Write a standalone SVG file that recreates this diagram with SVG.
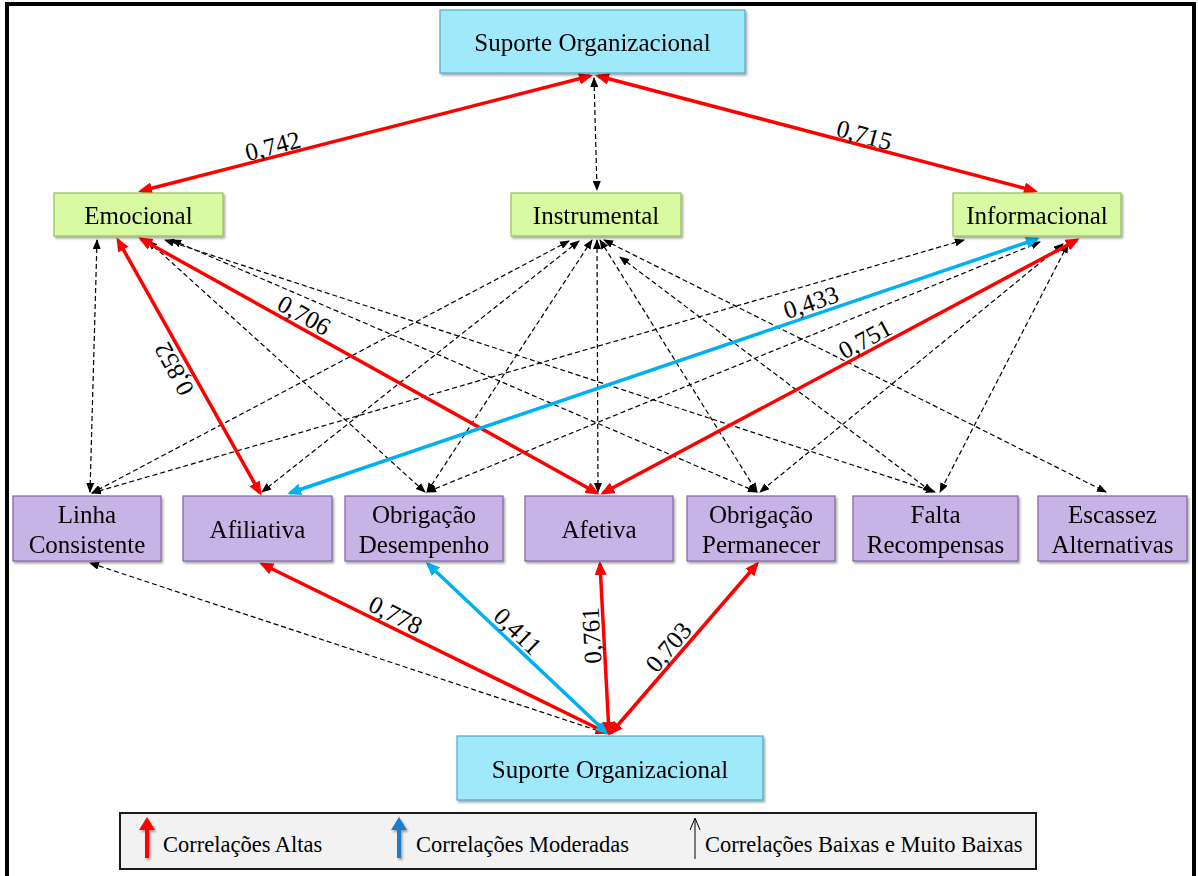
<svg xmlns="http://www.w3.org/2000/svg" width="1198" height="876" viewBox="0 0 1198 876">
  <style>
    .lbl { font-family: "Liberation Serif", "Times New Roman", serif; font-size: 25px; fill: #000; text-anchor: middle; }
    .val { font-family: "Liberation Serif", "Times New Roman", serif; font-size: 25px; fill: #000; text-anchor: middle; }
    .leg { font-family: "Liberation Serif", "Times New Roman", serif; font-size: 22.5px; fill: #000; }
    .cyan { fill: #A0E9FB; stroke: #4BACC6; stroke-width: 1.2; }
    .green { fill: #D7FAA3; stroke: #9BBB59; stroke-width: 1.2; }
    .purple { fill: #C8B3E6; stroke: #8064A2; stroke-width: 1.2; }
    .hi { stroke: #FF0000; stroke-width: 3.5; fill: none; marker-start: url(#mr); marker-end: url(#mr); }
    .mod { stroke: #00B0F0; stroke-width: 3.5; fill: none; marker-start: url(#mb); marker-end: url(#mb); }
    .low { stroke: #000; stroke-width: 1.2; stroke-dasharray: 5 3; fill: none; marker-start: url(#mk); marker-end: url(#mk); }
  </style>
  <defs>
    <filter id="sh" x="-10%" y="-10%" width="130%" height="140%">
      <feDropShadow dx="1.5" dy="2" stdDeviation="1.2" flood-color="#000" flood-opacity="0.35"/>
    </filter>
    <marker id="mr" viewBox="0 0 14 12" refX="11" refY="6" markerWidth="14" markerHeight="12" markerUnits="userSpaceOnUse" orient="auto-start-reverse">
      <path d="M0,0 L14,6 L0,12 z" fill="#FF0000"/>
    </marker>
    <marker id="mb" viewBox="0 0 14 12" refX="11" refY="6" markerWidth="14" markerHeight="12" markerUnits="userSpaceOnUse" orient="auto-start-reverse">
      <path d="M0,0 L14,6 L0,12 z" fill="#00B0F0"/>
    </marker>
    <marker id="mk" viewBox="0 0 10 8" refX="9" refY="4" markerWidth="10" markerHeight="8" markerUnits="userSpaceOnUse" orient="auto-start-reverse">
      <path d="M0,0 L10,4 L0,8 z" fill="#000"/>
    </marker>
  </defs>

  <!-- frame -->
  <rect x="0" y="0" width="1198" height="876" fill="#FFFFFF"/>
  <rect x="7" y="4" width="1187" height="880" fill="none" stroke="#000" stroke-width="4"/>

  <!-- connectors -->
  <g id="connectors">
    <!-- top level -->
    <line class="hi" x1="590" y1="76" x2="141" y2="191"/>
    <line class="hi" x1="598" y1="76" x2="1035" y2="191"/>
    <line class="low" x1="594" y1="78" x2="597" y2="190"/>

    <!-- Emocional -->
    <line class="low" x1="97" y1="240" x2="90" y2="492"/>
    <line class="low" x1="148" y1="241" x2="425" y2="492"/>
    <line class="low" x1="172" y1="240" x2="757" y2="492"/>
    <line class="low" x1="165" y1="240" x2="935" y2="492"/>

    <!-- Instrumental -->
    <line class="low" x1="569" y1="241" x2="92" y2="493"/>
    <line class="low" x1="579" y1="241" x2="262" y2="492"/>
    <line class="low" x1="592" y1="240" x2="427" y2="492"/>
    <line class="low" x1="597" y1="240" x2="598" y2="492"/>
    <line class="low" x1="600" y1="240" x2="757" y2="492"/>
    <line class="low" x1="620" y1="257" x2="932" y2="492"/>
    <line class="low" x1="604" y1="240" x2="1106" y2="492"/>

    <!-- Informacional -->
    <line class="low" x1="964" y1="240" x2="92" y2="493"/>
    <line class="low" x1="1040" y1="242" x2="427" y2="492"/>
    <line class="low" x1="1063" y1="244" x2="760" y2="492"/>
    <line class="low" x1="1068" y1="244" x2="940" y2="492"/>

    <!-- bottom level -->
    <line class="low" x1="605" y1="733" x2="90" y2="563"/>

    <!-- strong and moderate links (drawn over the dashed ones) -->
    <line class="hi" x1="118" y1="240" x2="260" y2="493"/>
    <line class="hi" x1="141" y1="239" x2="597" y2="493"/>
    <line class="mod" x1="1037" y1="239" x2="290" y2="493"/>
    <line class="hi" x1="1077" y1="240" x2="603" y2="493"/>
    <line class="hi" x1="607" y1="733" x2="262" y2="564"/>
    <line class="mod" x1="607" y1="733" x2="428" y2="564"/>
    <line class="hi" x1="609" y1="733" x2="600" y2="564"/>
    <line class="hi" x1="611" y1="733" x2="757" y2="564"/>

    <!-- coefficients -->
    <text class="val" transform="translate(276,158) rotate(-14.8)" y="-4">0,742</text>
    <text class="val" transform="translate(861,147) rotate(15.1)" y="-4">0,715</text>
    <text class="val" transform="translate(185,363) rotate(-118.3)" y="-4">0,852</text>
    <text class="val" transform="translate(298,326) rotate(29.3)" y="-4">0,706</text>
    <text class="val" transform="translate(815,314) rotate(-18.9)" y="-4">0,433</text>
    <text class="val" transform="translate(871,350) rotate(-28.3)" y="-4">0,751</text>
    <text class="val" transform="translate(390,626) rotate(26.6)" y="-4">0,778</text>
    <text class="val" transform="translate(509,640) rotate(44)" y="-4">0,411</text>
    <text class="val" transform="translate(604,635) rotate(-93)" y="-4">0,761</text>
    <text class="val" transform="translate(678,655) rotate(-49.8)" y="-4">0,703</text>
  </g>

  <!-- nodes -->
  <g id="suporte-top" filter="url(#sh)">
    <rect class="cyan" x="440" y="10" width="305" height="63"/>
    <text class="lbl" x="592.5" y="51">Suporte Organizacional</text>
  </g>

  <g id="emocional" filter="url(#sh)">
    <rect class="green" x="54" y="193" width="169" height="43"/>
    <text class="lbl" x="138.5" y="224">Emocional</text>
  </g>
  <g id="instrumental" filter="url(#sh)">
    <rect class="green" x="511" y="193" width="170" height="43"/>
    <text class="lbl" x="596" y="224">Instrumental</text>
  </g>
  <g id="informacional" filter="url(#sh)">
    <rect class="green" x="953" y="193" width="168" height="43"/>
    <text class="lbl" x="1037" y="224">Informacional</text>
  </g>

  <g id="linha-consistente" filter="url(#sh)">
    <rect class="purple" x="13" y="496" width="148" height="65"/>
    <text class="lbl" x="87" y="523">Linha</text>
    <text class="lbl" x="87" y="553">Consistente</text>
  </g>
  <g id="afiliativa" filter="url(#sh)">
    <rect class="purple" x="183" y="496" width="149" height="65"/>
    <text class="lbl" x="257.5" y="538">Afiliativa</text>
  </g>
  <g id="obrigacao-desempenho" filter="url(#sh)">
    <rect class="purple" x="345" y="496" width="158" height="65"/>
    <text class="lbl" x="424" y="523">Obrigação</text>
    <text class="lbl" x="424" y="553">Desempenho</text>
  </g>
  <g id="afetiva" filter="url(#sh)">
    <rect class="purple" x="525" y="496" width="148" height="65"/>
    <text class="lbl" x="599" y="538">Afetiva</text>
  </g>
  <g id="obrigacao-permanecer" filter="url(#sh)">
    <rect class="purple" x="687" y="496" width="148" height="65"/>
    <text class="lbl" x="761" y="523">Obrigação</text>
    <text class="lbl" x="761" y="553">Permanecer</text>
  </g>
  <g id="falta-recompensas" filter="url(#sh)">
    <rect class="purple" x="853" y="496" width="165" height="65"/>
    <text class="lbl" x="935.5" y="523">Falta</text>
    <text class="lbl" x="935.5" y="553">Recompensas</text>
  </g>
  <g id="escassez-alternativas" filter="url(#sh)">
    <rect class="purple" x="1038" y="496" width="149" height="65"/>
    <text class="lbl" x="1112.5" y="523">Escassez</text>
    <text class="lbl" x="1112.5" y="553">Alternativas</text>
  </g>

  <g id="suporte-bottom" filter="url(#sh)">
    <rect class="cyan" x="457" y="736" width="306" height="64"/>
    <text class="lbl" x="610" y="778">Suporte Organizacional</text>
  </g>

  <!-- legend -->
  <g id="legend">
    <rect x="120" y="813" width="916" height="56" fill="#F2F2F2" stroke="#1A1A1A" stroke-width="2"/>
    <g filter="url(#sh)">
      <path d="M145,858 L145,830 L139,830 L147,817 L155,830 L149,830 L149,858 z" fill="#FF0000"/>
      <path d="M397,858 L397,830 L391,830 L399,817 L407,830 L401,830 L401,858 z" fill="#1F7EC8"/>
    </g>
    <path d="M695,859 L695,819 M690,830 L695,818 L700,830" fill="none" stroke="#000" stroke-width="1"/>
    <text class="leg" x="163" y="852">Correlações Altas</text>
    <text class="leg" x="416" y="852">Correlações Moderadas</text>
    <text class="leg" x="705" y="852">Correlações Baixas e Muito Baixas</text>
  </g>
</svg>
